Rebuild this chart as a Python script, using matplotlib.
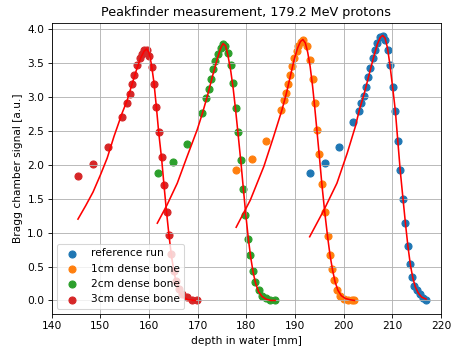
import matplotlib
matplotlib.use('Agg')
import matplotlib.pyplot as plt

# measured points (depth in water [mm], Bragg chamber signal [a.u.])
ref_d = [193.1, 196.1, 199.1, 202.0, 203.1, 203.5, 204.1, 204.5, 205.0, 205.4, 206.0, 206.5, 206.9,
         207.5, 208.0, 208.5, 209.1, 209.5, 210.1, 210.6, 211.1, 211.6, 212.2, 212.6, 213.1, 213.6,
         214.1, 214.5, 215.0, 215.6, 216.2, 216.9]
ref_s = [1.88, 2.03, 2.27, 2.63, 2.80, 2.91, 3.02, 3.15, 3.30, 3.43, 3.57, 3.70, 3.80,
         3.88, 3.90, 3.85, 3.70, 3.47, 3.15, 2.80, 2.36, 1.92, 1.49, 1.15, 0.81, 0.54,
         0.35, 0.22, 0.15, 0.09, 0.04, 0.01]

b1_d = [177.9, 181.2, 184.1, 187.1, 187.7, 188.2, 188.5, 188.9, 189.4, 189.8, 190.3, 190.7, 191.3,
        191.6, 192.5, 193.1, 193.6, 194.0, 194.5, 195.0, 195.5, 196.1, 196.7, 197.1, 197.6, 198.1,
        198.6, 199.3, 200.0, 200.8, 201.7, 202.2]
b1_s = [1.92, 2.09, 2.36, 2.81, 2.96, 3.06, 3.19, 3.32, 3.46, 3.58, 3.68, 3.75, 3.81,
        3.84, 3.75, 3.55, 3.27, 2.92, 2.52, 2.16, 1.72, 1.31, 0.95, 0.67, 0.47, 0.30,
        0.16, 0.07, 0.02, 0.00, 0.00, 0.00]

b2_d = [161.8, 164.9, 167.8, 170.8, 171.8, 172.3, 172.8, 173.2, 173.6, 174.1, 174.7, 175.2, 175.7,
        176.2, 176.9, 177.3, 177.8, 178.3, 178.9, 179.3, 179.8, 180.3, 180.8, 181.3, 181.8, 182.5,
        183.2, 184.1, 184.9, 185.9]
b2_s = [1.88, 2.05, 2.31, 2.77, 2.99, 3.12, 3.27, 3.41, 3.53, 3.63, 3.73, 3.78, 3.75,
        3.65, 3.48, 3.21, 2.84, 2.49, 2.07, 1.64, 1.26, 0.91, 0.67, 0.44, 0.27, 0.15,
        0.07, 0.03, 0.00, 0.00]

b3_d = [145.4, 148.5, 151.6, 154.5, 155.5, 156.0, 156.5, 157.0, 157.6, 158.1, 158.5, 159.0, 159.5,
        160.0, 160.6, 161.0, 161.5, 162.0, 162.7, 163.0, 163.6, 164.1, 164.6, 165.2, 165.6, 166.1,
        166.8, 167.8, 168.8, 169.8]
b3_s = [1.83, 2.01, 2.26, 2.71, 2.91, 3.05, 3.19, 3.33, 3.47, 3.57, 3.64, 3.69, 3.70,
        3.60, 3.44, 3.20, 2.86, 2.49, 2.11, 1.70, 1.31, 0.96, 0.68, 0.44, 0.29, 0.17,
        0.10, 0.05, 0.00, 0.00]

# fitted curves
ref_fd = [193.0, 195.9, 198.6, 200.7, 202.4, 203.2, 204.2, 205.2, 206.1, 206.9, 207.5, 208.0, 208.5,
          209.0, 209.5, 210.0, 210.6, 211.1, 211.6, 212.2, 212.7, 213.2, 213.7, 214.2, 214.7, 215.3,
          216.0, 216.9]
ref_fs = [0.94, 1.33, 1.73, 2.17, 2.57, 2.81, 3.05, 3.33, 3.58, 3.78, 3.88, 3.91, 3.87,
          3.72, 3.47, 3.17, 2.80, 2.36, 1.92, 1.48, 1.12, 0.79, 0.52, 0.33, 0.20, 0.11,
          0.05, 0.02]

b1_fd = [177.9, 180.8, 183.6, 185.6, 187.3, 188.2, 189.0, 189.8, 190.5, 191.1, 191.6, 192.1, 192.6,
         193.1, 193.6, 194.0, 194.5, 195.0, 195.5, 196.1, 196.7, 197.2, 197.7, 198.2, 198.8, 199.5,
         200.3, 201.3, 202.2]
b1_fs = [1.08, 1.48, 1.98, 2.42, 2.81, 3.05, 3.30, 3.55, 3.72, 3.82, 3.85, 3.80, 3.66,
         3.45, 3.16, 2.88, 2.50, 2.12, 1.72, 1.30, 0.93, 0.66, 0.45, 0.28, 0.15, 0.07,
         0.03, 0.01, 0.00]

b2_fd = [161.7, 163.7, 165.8, 167.8, 169.9, 171.0, 172.0, 173.0, 174.0, 174.7, 175.2, 175.7, 176.2,
         176.8, 177.3, 177.8, 178.3, 178.9, 179.4, 179.9, 180.4, 180.9, 181.4, 181.9, 182.5, 183.2,
         184.0, 185.0, 185.9]
b2_fs = [1.14, 1.41, 1.73, 2.12, 2.52, 2.77, 3.02, 3.30, 3.56, 3.72, 3.79, 3.76, 3.62,
         3.38, 3.12, 2.80, 2.45, 2.02, 1.63, 1.25, 0.91, 0.63, 0.41, 0.25, 0.13, 0.06,
         0.02, 0.00, 0.00]

b3_fd = [145.4, 147.0, 148.5, 150.0, 151.4, 152.8, 154.5, 155.5, 156.5, 157.5, 158.3, 159.0, 159.5,
         160.0, 160.5, 161.0, 161.5, 162.0, 162.6, 163.1, 163.6, 164.1, 164.6, 165.1, 165.6, 166.2,
         167.0, 168.0, 169.5]
b3_fs = [1.20, 1.40, 1.60, 1.85, 2.10, 2.42, 2.77, 2.95, 3.19, 3.42, 3.58, 3.68, 3.71,
         3.66, 3.48, 3.22, 2.86, 2.47, 2.08, 1.68, 1.30, 0.96, 0.66, 0.43, 0.26, 0.13,
         0.05, 0.01, 0.00]

labels = ['reference run', '1cm dense bone', '2cm dense bone', '3cm dense bone']

DPI = 76.5
MS = 44   # marker area
fig = plt.figure(figsize=(459 / DPI, 349 / DPI), dpi=DPI)
ax = fig.add_axes([0.1126, 0.1003, 0.8484, 0.835])

ax.scatter(ref_d, ref_s, s=MS, label=labels[0])
ax.scatter(b1_d, b1_s, s=MS, label=labels[1])
ax.scatter(b2_d, b2_s, s=MS, label=labels[2])
ax.scatter(b3_d, b3_s, s=MS, label=labels[3])

for fd, fs in [(ref_fd, ref_fs), (b1_fd, b1_fs), (b2_fd, b2_fs), (b3_fd, b3_fs)]:
    ax.plot(fd, fs, 'r-')

ax.set_xlim(140, 220)
ax.set_ylim(-0.2, 4.1)
ax.set_yticks([0.0, 0.5, 1.0, 1.5, 2.0, 2.5, 3.0, 3.5, 4.0])
ax.grid(True)
ax.set_xlabel('depth in water [mm]')
ax.set_ylabel('Bragg chamber signal [a.u.]')
ax.set_title('Peakfinder measurement, 179.2 MeV protons')
ax.legend(loc='lower left')

fig.savefig('out.png', dpi=DPI)
